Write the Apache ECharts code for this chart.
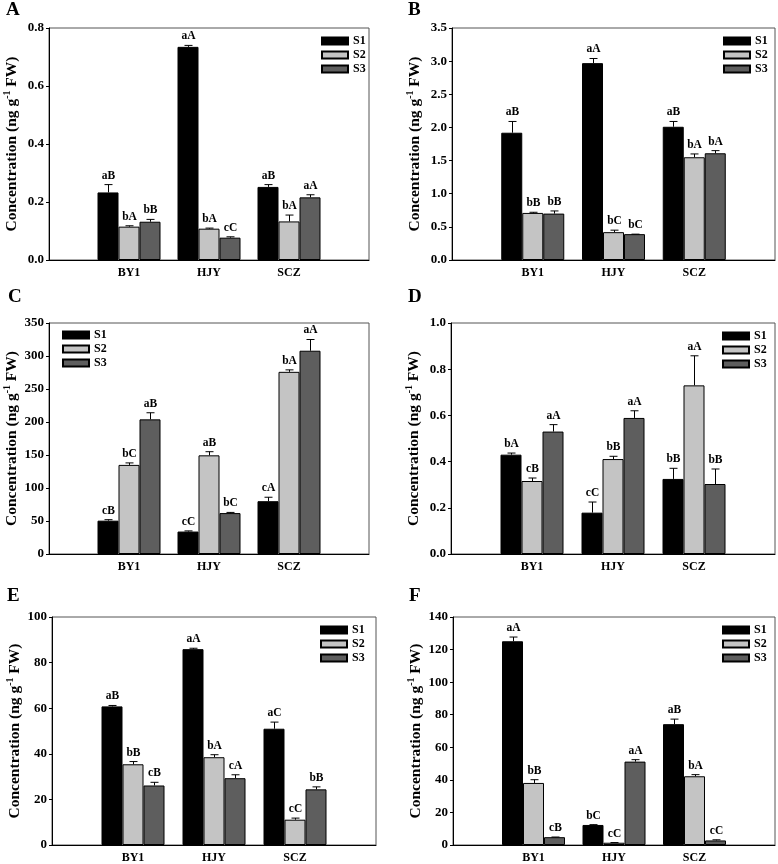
<!DOCTYPE html>
<html>
<head>
<meta charset="utf-8">
<script src="https://cdn.jsdelivr.net/npm/echarts@6/dist/echarts.min.js"></script>
<style>
html,body{margin:0;padding:0;background:#fff;}
#chart{width:778px;height:864px;}
</style>
</head>
<body>
<div id="chart"></div>
<script>
// ---------- DATA ----------
const categories = ['BY1', 'HJY', 'SCZ'];
const seriesNames = ['S1', 'S2', 'S3'];

// Panel A
const A_S1 = [0.233, 0.735, 0.252];
const A_S2 = [0.115, 0.108, 0.133];
const A_S3 = [0.132, 0.077, 0.216];
const A_S1_se = [0.027, 0.005, 0.008];
const A_S2_se = [0.003, 0.002, 0.022];
const A_S3_se = [0.008, 0.003, 0.009];
const A_S1_lab = ['aB', 'aA', 'aB'];
const A_S2_lab = ['bA', 'bA', 'bA'];
const A_S3_lab = ['bB', 'cC', 'aA'];
const A_ticks = ['0.0', '0.2', '0.4', '0.6', '0.8'];

// Panel B
const B_S1 = [1.92, 2.97, 2.01];
const B_S2 = [0.71, 0.42, 1.55];
const B_S3 = [0.70, 0.39, 1.61];
const B_S1_se = [0.17, 0.07, 0.08];
const B_S2_se = [0.01, 0.03, 0.05];
const B_S3_se = [0.04, 0.00, 0.04];
const B_S1_lab = ['aB', 'aA', 'aB'];
const B_S2_lab = ['bB', 'bC', 'bA'];
const B_S3_lab = ['bB', 'bC', 'bA'];
const B_ticks = ['0.0', '0.5', '1.0', '1.5', '2.0', '2.5', '3.0', '3.5'];

// Panel C
const C_S1 = [50.5, 34, 80];
const C_S2 = [135, 149.5, 276];
const C_S3 = [204, 62, 308];
const C_S1_se = [1.5, 1, 6];
const C_S2_se = [3, 5.5, 3];
const C_S3_se = [10, 1, 17];
const C_S1_lab = ['cB', 'cC', 'cA'];
const C_S2_lab = ['bC', 'aB', 'bA'];
const C_S3_lab = ['aB', 'bC', 'aA'];
const C_ticks = ['0', '50', '100', '150', '200', '250', '300', '350'];

// Panel D
const D_S1 = [0.430, 0.179, 0.325];
const D_S2 = [0.316, 0.411, 0.730];
const D_S3 = [0.530, 0.589, 0.303];
const D_S1_se = [0.007, 0.046, 0.046];
const D_S2_se = [0.013, 0.012, 0.128];
const D_S3_se = [0.030, 0.031, 0.065];
const D_S1_lab = ['bA', 'cC', 'bB'];
const D_S2_lab = ['cB', 'bB', 'aA'];
const D_S3_lab = ['aA', 'aA', 'bB'];
const D_ticks = ['0.0', '0.2', '0.4', '0.6', '0.8', '1.0'];

// Panel E
const E_S1 = [60.8, 85.9, 51.0];
const E_S2 = [35.4, 38.5, 11.1];
const E_S3 = [26.1, 29.3, 24.4];
const E_S1_se = [0.4, 0.4, 2.9];
const E_S2_se = [1.2, 1.1, 0.7];
const E_S3_se = [1.4, 1.5, 1.1];
const E_S1_lab = ['aB', 'aA', 'aC'];
const E_S2_lab = ['bB', 'bA', 'cC'];
const E_S3_lab = ['cB', 'cA', 'bB'];
const E_ticks = ['0', '20', '40', '60', '80', '100'];

// Panel F
const F_S1 = [125.1, 12.3, 74.2];
const F_S2 = [38.1, 1.4, 42.2];
const F_S3 = [4.8, 51.2, 2.8];
const F_S1_se = [2.6, 0.2, 3.1];
const F_S2_se = [2.0, 0.1, 1.0];
const F_S3_se = [0.1, 1.2, 0.4];
const F_S1_lab = ['aA', 'bC', 'aB'];
const F_S2_lab = ['bB', 'cC', 'bA'];
const F_S3_lab = ['cB', 'aA', 'cC'];
const F_ticks = ['0', '20', '40', '60', '80', '100', '120', '140'];

// ---------- LAYOUT / STYLE ----------
const FONT = '"Liberation Serif", "Times New Roman", serif';
const COLORS = ['#000000', '#c4c4c4', '#5e5e5e'];
const BW = 21;

const panels = [
  {id:'A', vals:[A_S1,A_S2,A_S3], se:[A_S1_se,A_S2_se,A_S3_se], lab:[A_S1_lab,A_S2_lab,A_S3_lab], ticks:A_ticks,
   grid:{left:49, top:28, width:320, height:232}, title:{left:6, top:1}, legend:{left:321, top:34}},
  {id:'B', vals:[B_S1,B_S2,B_S3], se:[B_S1_se,B_S2_se,B_S3_se], lab:[B_S1_lab,B_S2_lab,B_S3_lab], ticks:B_ticks,
   grid:{left:452, top:28, width:323, height:232}, title:{left:408, top:1}, legend:{left:723, top:34}},
  {id:'C', vals:[C_S1,C_S2,C_S3], se:[C_S1_se,C_S2_se,C_S3_se], lab:[C_S1_lab,C_S2_lab,C_S3_lab], ticks:C_ticks,
   grid:{left:49, top:323, width:320, height:231}, title:{left:8, top:288}, legend:{left:62, top:328}},
  {id:'D', vals:[D_S1,D_S2,D_S3], se:[D_S1_se,D_S2_se,D_S3_se], lab:[D_S1_lab,D_S2_lab,D_S3_lab], ticks:D_ticks,
   grid:{left:451, top:323, width:324, height:231}, title:{left:408, top:288}, legend:{left:722, top:329}},
  {id:'E', vals:[E_S1,E_S2,E_S3], se:[E_S1_se,E_S2_se,E_S3_se], lab:[E_S1_lab,E_S2_lab,E_S3_lab], ticks:E_ticks,
   grid:{left:52, top:617, width:324, height:231}, title:{left:7, top:587}, legend:{left:320, top:623}},
  {id:'F', vals:[F_S1,F_S2,F_S3], se:[F_S1_se,F_S2_se,F_S3_se], lab:[F_S1_lab,F_S2_lab,F_S3_lab], ticks:F_ticks,
   grid:{left:453, top:617, width:322, height:231}, title:{left:409, top:587}, legend:{left:722, top:623}}
];

const xCats = [''].concat(categories).concat(['']);

const option = {
  animation: false,
  backgroundColor: '#fff',
  title: [], legend: [], grid: [], xAxis: [], yAxis: [], series: []
};

panels.forEach(function (p, gi) {
  const tickVals = p.ticks.map(Number);
  const yMax = tickVals[tickVals.length - 1];
  const interval = tickVals[1] - tickVals[0];
  const decimals = (p.ticks[0].split('.')[1] || '').length;

  option.title.push({
    text: p.id, left: p.title.left, top: p.title.top, padding: 0,
    textStyle: {fontFamily: FONT, fontWeight: 'bold', fontSize: 19, color: '#000'}
  });
  option.grid.push(Object.assign({show: true, borderColor: '#555', borderWidth: 1, backgroundColor: 'transparent'}, p.grid));
  option.legend.push({
    data: seriesNames, orient: 'vertical', left: p.legend.left, top: p.legend.top, padding: 0,
    itemWidth: 26, itemHeight: 7, itemGap: 0, icon: 'rect', selectedMode: false,
    textStyle: {fontFamily: FONT, fontWeight: 'bold', fontSize: 12, color: '#000', lineHeight: 14}
  });
  option.xAxis.push({
    type: 'category', gridIndex: gi, data: xCats, boundaryGap: false,
    axisLine: {show: true, lineStyle: {color: '#000', width: 1}},
    axisTick: {show: false},
    axisLabel: {fontFamily: FONT, fontWeight: 'bold', fontSize: 12, color: '#000', margin: 7, interval: 0},
    splitLine: {show: false}
  });
  option.yAxis.push({
    type: 'value', gridIndex: gi, min: 0, max: yMax, interval: interval,
    name: '{t|Concentration (ng g}{s|-1}{t| FW)}',
    nameLocation: 'middle', nameGap: 28,
    nameTextStyle: {
      rich: {
        t: {fontFamily: FONT, fontWeight: 'bold', fontSize: 15.5, color: '#000', lineHeight: 19},
        s: {fontFamily: FONT, fontWeight: 'bold', fontSize: 10, color: '#000', verticalAlign: 'top', lineHeight: 10}
      }
    },
    axisLine: {show: true, lineStyle: {color: '#000', width: 1}},
    axisTick: {show: true, inside: false, length: 3, lineStyle: {color: '#000'}},
    axisLabel: {fontFamily: FONT, fontWeight: 'bold', fontSize: 13, color: '#000', margin: 5,
      formatter: function (v) { return Number(v).toFixed(decimals); }},
    splitLine: {show: false}
  });

  p.vals.forEach(function (vals, si) {
    option.series.push({
      type: 'bar', name: seriesNames[si], xAxisIndex: gi, yAxisIndex: gi,
      data: ['-'].concat(vals).concat(['-']),
      barWidth: BW, barGap: '0%',
      itemStyle: {color: COLORS[si], borderColor: '#000', borderWidth: 1},
      z: 2
    });
  });

  const errData = [];
  p.vals.forEach(function (vals, si) {
    vals.forEach(function (v, ci) {
      errData.push([ci + 1, si, v, v + p.se[si][ci]]);
    });
  });
  option.series.push({
    type: 'custom', xAxisIndex: gi, yAxisIndex: gi, z: 5,
    data: errData, encode: {x: 0, y: 3},
    renderItem: function (params, api) {
      const ci = api.value(0), si = api.value(1), v = api.value(2), e = api.value(3);
      const p0 = api.coord([ci, v]);
      const p1 = api.coord([ci, e]);
      const x = Math.round(p0[0] + (si - 1) * BW) + 0.5;
      const label = p.lab[si][ci - 1];
      return {
        type: 'group',
        children: [
          {type: 'line', shape: {x1: x, y1: p0[1], x2: x, y2: p1[1]}, style: {stroke: '#000', lineWidth: 1}},
          {type: 'line', shape: {x1: x - 4, y1: p1[1], x2: x + 4, y2: p1[1]}, style: {stroke: '#000', lineWidth: 1}},
          {type: 'text', x: x, y: p1[1] - 3,
           style: {text: label, font: 'bold 11.5px ' + FONT, fill: '#000', align: 'center', verticalAlign: 'bottom'}}
        ]
      };
    }
  });
});

const chart = echarts.init(document.getElementById('chart'), null, {renderer: 'canvas'});
chart.setOption(option);
</script>
</body>
</html>
